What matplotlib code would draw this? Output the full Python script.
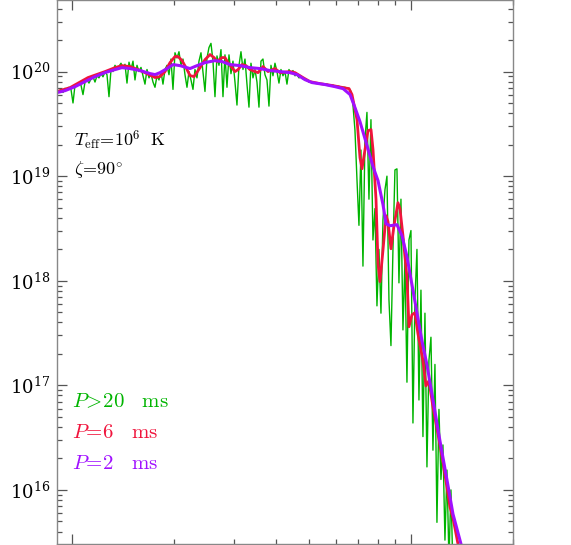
import numpy as np
import matplotlib
matplotlib.use("Agg")
import matplotlib.pyplot as plt
from matplotlib.ticker import LogLocator, NullFormatter

plt.rcParams['mathtext.fontset'] = 'cm'
plt.rcParams['font.family'] = 'DejaVu Serif'

# P = 2 ms (purple): energy in keV, log10 flux
energy_p2 = [0.0903, 0.0954, 0.1021, 0.1092, 0.1169, 0.1251, 0.1339, 0.1404, 0.1483,
             0.1587, 0.1699, 0.1758, 0.1818, 0.1907, 0.1986, 0.2083, 0.2229, 0.2338,
             0.2469, 0.2642, 0.2770, 0.2925, 0.3131, 0.3350, 0.3586, 0.3838, 0.4107,
             0.4397, 0.4611, 0.4867, 0.5105, 0.5576, 0.5968, 0.6305, 0.6612, 0.6837,
             0.7073, 0.7419, 0.7727, 0.7994, 0.8271, 0.8441, 0.8674, 0.9093, 0.9407,
             0.9732, 1.0068, 1.0416, 1.0775, 1.1148, 1.1612, 1.2177, 1.2771, 1.3302,
             1.4046, 1.4239]
logflux_p2 = [19.799, 19.818, 19.856, 19.904, 19.952, 19.990, 20.019, 20.038, 20.029,
              20.010, 19.981, 19.971, 19.990, 20.029, 20.067, 20.057, 20.029, 20.057,
              20.086, 20.105, 20.096, 20.067, 20.057, 20.038, 20.029, 20.010, 20.000,
              19.990, 19.971, 19.923, 19.895, 19.876, 19.856, 19.837, 19.780, 19.655,
              19.521, 19.292, 19.091, 18.957, 18.727, 18.545, 18.526, 18.536, 18.431,
              18.230, 17.962, 17.694, 17.426, 17.196, 16.861, 16.469, 16.096, 15.770,
              15.483, 15.407]

# P = 6 ms (red)
energy_p6 = [0.0903, 0.0987, 0.1115, 0.1251, 0.1339, 0.1404, 0.1483, 0.1566, 0.1642,
             0.1758, 0.1818, 0.1881, 0.1946, 0.2013, 0.2055, 0.2111, 0.2169, 0.2229,
             0.2291, 0.2386, 0.2469, 0.2554, 0.2624, 0.2678, 0.2770, 0.2827, 0.2885,
             0.3026, 0.3088, 0.3172, 0.3260, 0.3350, 0.3538, 0.3660, 0.3787, 0.3970,
             0.4107, 0.4397, 0.4549, 0.4801, 0.5036, 0.5390, 0.5887, 0.6305, 0.6567,
             0.6699, 0.6837, 0.6931, 0.7073, 0.7171, 0.7318, 0.7469, 0.7623, 0.7727,
             0.7887, 0.7994, 0.8104, 0.8271, 0.8441, 0.8556, 0.8730, 0.8910, 0.9155,
             0.9280, 0.9471, 0.9732, 0.9865, 1.0068, 1.0275, 1.0487, 1.0849, 1.1072,
             1.1300, 1.1612, 1.2013, 1.2428, 1.3032, 1.3302, 1.3763, 1.3951]
logflux_p6 = [19.809, 19.847, 19.943, 20.000, 20.038, 20.057, 20.048, 20.019, 19.990,
              19.943, 19.952, 20.000, 20.086, 20.144, 20.144, 20.105, 20.038, 19.962,
              19.952, 20.038, 20.115, 20.163, 20.134, 20.096, 20.134, 20.134, 20.086,
              20.000, 20.019, 20.067, 20.057, 20.019, 19.990, 20.048, 20.000, 20.029,
              19.990, 20.000, 19.990, 19.943, 19.904, 19.885, 19.866, 19.847, 19.837,
              19.780, 19.636, 19.541, 19.177, 19.071, 19.254, 19.435, 19.445, 19.254,
              18.775, 18.163, 17.991, 18.297, 18.622, 18.565, 18.306, 18.526, 18.746,
              18.689, 18.431, 18.029, 17.560, 17.675, 17.694, 17.493, 17.234, 16.995,
              17.043, 16.794, 16.536, 16.268, 15.837, 15.732, 15.483, 15.407]

# P > 20 ms (green), log10 flux on a regular log-energy grid 0.0903 - 1.33 keV
logflux_p20 = [
    19.80, 19.81, 19.83, 19.80, 19.84, 19.82, 19.85, 19.83, 19.70, 19.87,
    19.86, 19.89, 19.87, 19.78, 19.90, 19.92, 19.89, 19.93, 19.95, 19.90,
    19.96, 19.94, 19.98, 19.95, 20.00, 19.97, 19.76, 20.02, 20.00, 20.06,
    20.02, 20.05, 20.08, 20.03, 20.07, 19.89, 20.09, 20.02, 20.10, 19.92,
    20.06, 20.00, 20.04, 19.96, 19.88, 20.02, 19.94, 19.98, 19.90, 19.85,
    19.96, 19.92, 20.00, 19.88, 20.02, 20.06, 19.97, 20.12, 19.83, 20.18,
    20.13, 20.19, 20.06, 20.12, 19.97, 19.85, 20.00, 19.92, 19.83, 20.02,
    19.94, 20.10, 20.18, 20.00, 19.81, 20.13, 20.23, 20.27, 20.10, 19.76,
    20.15, 20.06, 20.21, 19.76, 20.16, 19.85, 20.16, 19.98, 20.10, 19.90,
    19.68, 20.06, 20.19, 20.02, 20.12, 19.88, 19.66, 20.08, 19.94, 20.02,
    19.90, 19.66, 20.10, 20.12, 19.97, 19.92, 19.67, 20.06, 19.96, 20.08,
    20.00, 19.89, 20.02, 19.96, 20.00, 19.88, 20.02, 19.98, 20.01, 19.96,
    19.97, 19.94, 19.95, 19.93, 19.92, 19.92, 19.90, 19.90, 19.89, 19.89,
    19.89, 19.89, 19.88, 19.88, 19.88, 19.88, 19.87, 19.87, 19.87, 19.86,
    19.86, 19.86, 19.85, 19.85, 19.85, 19.84, 19.84, 19.81, 19.68, 19.44,
    18.97, 18.53, 19.25, 18.14, 19.35, 19.61, 18.78, 19.54, 18.39, 18.69,
    17.76, 18.30, 17.69, 18.58, 18.87, 19.00, 17.82, 17.38, 18.30, 19.06,
    19.07, 17.98, 18.78, 17.53, 18.20, 17.03, 18.39, 18.48, 16.64, 17.82,
    18.30, 16.86, 17.91, 16.51, 17.69, 16.22, 17.24, 17.46, 16.38, 17.20,
    15.69, 16.77, 16.10, 16.43, 15.52, 16.19, 15.33, 16.00, 15.23]
energy_p20 = np.geomspace(0.0903, 1.33, len(logflux_p20))

labels = [r"$P\!>\!20\ \ \ {\rm ms}$", r"$P\!=\!6\ \ \ {\rm ms}$", r"$P\!=\!2\ \ \ {\rm ms}$"]
colors = ['#00b400', '#f0143c', '#a010ff']

fig = plt.figure(figsize=(5.71, 5.45), dpi=100)
ax = fig.add_axes([57 / 571, 1 / 545, 456 / 571, 544.5 / 545])

ax.plot(energy_p20, 10 ** np.array(logflux_p20), color=colors[0], lw=1.0)
ax.plot(energy_p6, 10 ** np.array(logflux_p6), color=colors[1], lw=2.0,
        solid_joinstyle='round')
ax.plot(energy_p2, 10 ** np.array(logflux_p2), color=colors[2], lw=2.2,
        solid_joinstyle='round')

ax.set_xscale('log')
ax.set_yscale('log')
ax.set_xlim(0.0903, 2.0)
ax.set_ylim(3.04e15, 4.89e20)

ax.yaxis.set_major_locator(LogLocator(base=10, numticks=12))
ax.yaxis.set_minor_locator(LogLocator(base=10, subs=np.arange(2, 10), numticks=12))
ax.xaxis.set_minor_locator(LogLocator(base=10, subs=np.arange(2, 10), numticks=12))
ax.xaxis.set_minor_formatter(NullFormatter())
ax.yaxis.set_minor_formatter(NullFormatter())

ax.tick_params(which='both', direction='in', top=True, right=True,
               color='#555555', width=0.9, labelsize=13, labelbottom=False)
ax.tick_params(which='major', length=7)
ax.tick_params(which='minor', length=3.6)
ax.tick_params(axis='y', pad=5)
for s in ax.spines.values():
    s.set_color('#888888')
    s.set_linewidth(1.0)

ax.text(0.037, 0.741, r"$T_{\rm eff}\!=\!10^6\ \ {\rm K}$", transform=ax.transAxes,
        fontsize=13, va='center', ha='left')
ax.text(0.037, 0.688, r"$\zeta\!=\!90^{\circ}$", transform=ax.transAxes,
        fontsize=13, va='center', ha='left')

for lab, col, yy in zip(labels, colors, [0.261, 0.204, 0.147]):
    ax.text(0.033, yy, lab, transform=ax.transAxes, fontsize=15,
            color=col, va='center', ha='left')

fig.text(0.005, 0.5, r"$L_E$  (erg s$^{-1}$ keV$^{-1}$)", rotation=90,
         ha='right', va='center', fontsize=13)

fig.savefig('out.png', dpi=100)
